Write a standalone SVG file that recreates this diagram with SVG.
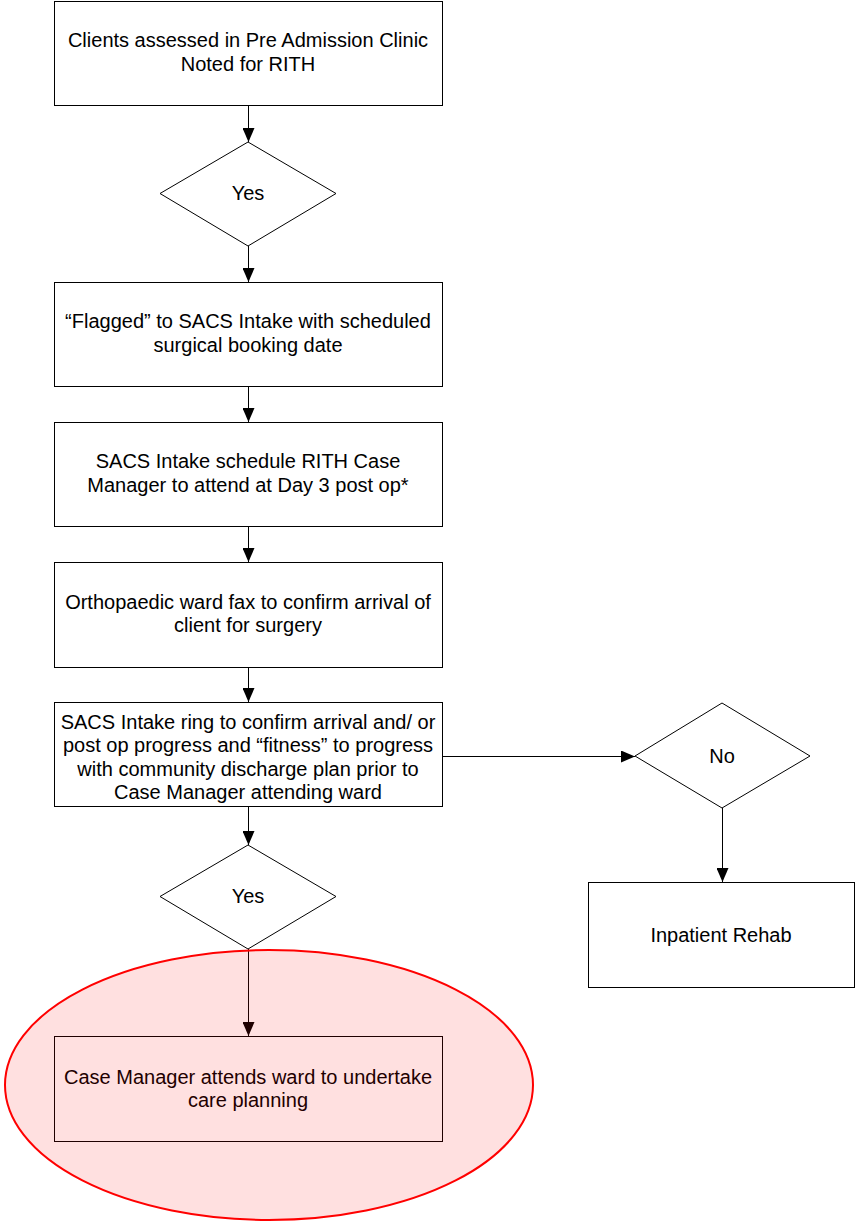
<svg xmlns="http://www.w3.org/2000/svg" width="856" height="1221" viewBox="0 0 856 1221">
<style>
.box{fill:#fff;stroke:#000;stroke-width:1}
.dia{fill:#fff;stroke:#000;stroke-width:1}
.t{font-family:"Liberation Sans",Arial,sans-serif;font-size:20px;fill:#000;text-anchor:middle}
.c{fill:none;stroke:#000;stroke-width:1}
</style>
<defs>
<marker id="ah" viewBox="0 0 14 12" refX="14" refY="6" markerWidth="14" markerHeight="12" markerUnits="userSpaceOnUse" orient="auto">
<path d="M0,0 L14,6 L0,12 Z" fill="#000"/>
</marker>
</defs>
<rect width="856" height="1221" fill="#fff"/>
<g id="n1"><rect class="box" x="54.5" y="1.5" width="388" height="104"/>
<text class="t" x="248" y="47">Clients assessed in Pre Admission Clinic</text>
<text class="t" x="248" y="71">Noted for RITH</text></g>
<g id="d1"><polygon class="dia" points="248,142 336,193.5 248,246 160,193.5"/>
<text class="t" x="248" y="200">Yes</text></g>
<g id="n2"><rect class="box" x="54.5" y="282.5" width="388" height="104"/>
<text class="t" x="248" y="328">“Flagged” to SACS Intake with scheduled</text>
<text class="t" x="248" y="352">surgical booking date</text></g>
<g id="n3"><rect class="box" x="54.5" y="422.5" width="388" height="104"/>
<text class="t" x="248" y="468">SACS Intake schedule RITH Case</text>
<text class="t" x="248" y="492">Manager to attend at Day 3 post op*</text></g>
<g id="n4"><rect class="box" x="54.5" y="562.5" width="388" height="105"/>
<text class="t" x="248" y="609">Orthopaedic ward fax to confirm arrival of</text>
<text class="t" x="248" y="632">client for surgery</text></g>
<g id="n5"><rect class="box" x="54.5" y="702.5" width="388" height="104"/>
<text class="t" x="248" y="729">SACS Intake ring to confirm arrival and/ or</text>
<text class="t" x="248" y="752">post op progress and “fitness” to progress</text>
<text class="t" x="248" y="776">with community discharge plan prior to</text>
<text class="t" x="248" y="799">Case Manager attending ward</text></g>
<g id="d2"><polygon class="dia" points="722,703 810,756 722,808 635,756"/>
<text class="t" x="722" y="763">No</text></g>
<g id="n6"><rect class="box" x="588.5" y="882.5" width="266" height="105"/>
<text class="t" x="721" y="942">Inpatient Rehab</text></g>
<g id="d3"><polygon class="dia" points="248,845 336,896.5 248,949 160,896.5"/>
<text class="t" x="248" y="903">Yes</text></g>
<g id="n7"><rect class="box" x="54.5" y="1036.5" width="388" height="105"/>
<text class="t" x="248" y="1084">Case Manager attends ward to undertake</text>
<text class="t" x="248" y="1107">care planning</text></g>
<g id="connectors">
<line class="c" x1="248.5" y1="106" x2="248.5" y2="142" marker-end="url(#ah)"/>
<line class="c" x1="248.5" y1="246" x2="248.5" y2="282" marker-end="url(#ah)"/>
<line class="c" x1="248.5" y1="387" x2="248.5" y2="422" marker-end="url(#ah)"/>
<line class="c" x1="248.5" y1="527" x2="248.5" y2="562" marker-end="url(#ah)"/>
<line class="c" x1="248.5" y1="668" x2="248.5" y2="702" marker-end="url(#ah)"/>
<line class="c" x1="248.5" y1="807" x2="248.5" y2="845" marker-end="url(#ah)"/>
<line class="c" x1="248.5" y1="949" x2="248.5" y2="1036" marker-end="url(#ah)"/>
<line class="c" x1="443" y1="756.5" x2="635" y2="756.5" marker-end="url(#ah)"/>
<line class="c" x1="722.5" y1="808" x2="722.5" y2="882" marker-end="url(#ah)"/>
</g>
<g id="highlight"><ellipse cx="269" cy="1085" rx="264" ry="135" fill="#ff0000" fill-opacity="0.12" stroke="#ff0000" stroke-width="2"/></g>
</svg>
